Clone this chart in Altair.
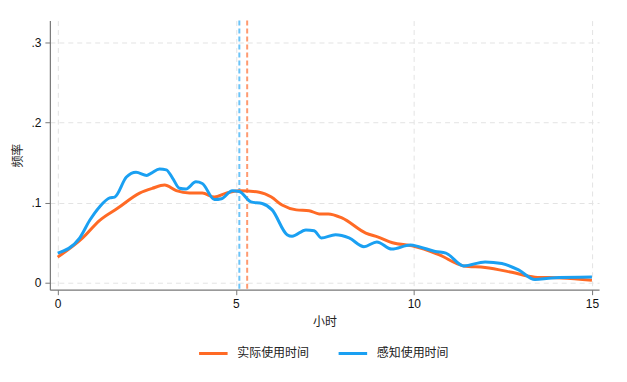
import altair as alt
import pandas as pd

actual_x = [0, 0.7, 1.18, 1.68, 2.3, 2.66, 3.0, 3.33, 3.7, 4.06, 4.4, 4.73, 5.1, 5.66, 6.0, 6.3, 6.7, 7.06, 7.34, 7.6, 7.98, 8.65, 9.0, 9.4, 9.95, 10.7, 11.4, 12.0, 12.75, 13.4, 14.15, 15.0]
actual_y = [0.032, 0.056, 0.078, 0.093, 0.112, 0.118, 0.122, 0.115, 0.112, 0.112, 0.107, 0.112, 0.115, 0.113, 0.107, 0.097, 0.091, 0.090, 0.086, 0.086, 0.081, 0.062, 0.057, 0.050, 0.046, 0.035, 0.021, 0.019, 0.013, 0.007, 0.006, 0.003]

perc_x = [0, 0.62, 0.9, 1.18, 1.46, 1.6, 1.93, 2.2, 2.5, 2.63, 2.86, 3.05, 3.22, 3.42, 3.6, 3.88, 4.06, 4.4, 4.6, 4.9, 5.1, 5.43, 5.74, 6.02, 6.44, 6.58, 6.97, 7.2, 7.4, 7.8, 8.18, 8.6, 8.96, 9.38, 9.9, 10.14, 10.6, 10.9, 11.4, 12.0, 12.47, 12.94, 13.4, 13.87, 15.0]
perc_y = [0.037, 0.056, 0.078, 0.095, 0.106, 0.107, 0.132, 0.138, 0.134, 0.137, 0.142, 0.141, 0.131, 0.118, 0.117, 0.126, 0.124, 0.104, 0.105, 0.115, 0.114, 0.101, 0.099, 0.091, 0.060, 0.058, 0.066, 0.065, 0.056, 0.060, 0.056, 0.045, 0.051, 0.042, 0.047, 0.045, 0.039, 0.037, 0.021, 0.026, 0.024, 0.016, 0.004, 0.006, 0.007]

series_names = ["实际使用时间", "感知使用时间"]
series_colors = ["#FF6A25", "#1AA0F2"]
mean_x = [5.32, 5.10]
mean_colors = ["#FF9A70", "#6CC4F8"]

df = pd.concat([
    pd.DataFrame({"小时": actual_x, "频率": actual_y, "series": series_names[0], "order": range(len(actual_x))}),
    pd.DataFrame({"小时": perc_x, "频率": perc_y, "series": series_names[1], "order": range(len(perc_x))}),
])
mdf = pd.DataFrame({"x": mean_x, "series": series_names, "c": mean_colors})

font = "Liberation Sans"
cjk = "Noto Sans CJK SC"

xscale = alt.Scale(domain=[-0.22, 15.2], nice=False, zero=False)
yscale = alt.Scale(domain=[-0.0087, 0.3275], nice=False, zero=False)

lines = alt.Chart(df).mark_line(strokeWidth=3, interpolate="monotone").encode(
    x=alt.X("小时:Q", scale=xscale,
            axis=alt.Axis(values=[0, 5, 10, 15], title="小时", titleFont=cjk, titleFontSize=12,
                          titleFontWeight="normal", titleColor="#222", titlePadding=7,
                          labelFont=font, labelFontSize=12, labelColor="#111", labelPadding=4,
                          tickSize=5, tickColor="#777", domainColor="#777", domainWidth=1.2,
                          grid=True, gridDash=[5, 4], gridColor="#e3e3e3")),
    y=alt.Y("频率:Q", scale=yscale,
            axis=alt.Axis(values=[0, 0.1, 0.2, 0.3], title="频率", titleFont=cjk, titleFontSize=12,
                          titleFontWeight="normal", titleColor="#222", titlePadding=6,
                          labelExpr="datum.value == 0 ? '0' : replace(format(datum.value, '.1f'), '0.', '.')",
                          labelFont=font, labelFontSize=12, labelColor="#111", labelPadding=4,
                          tickSize=5, tickColor="#777", domainColor="#777", domainWidth=1.2,
                          grid=True, gridDash=[5, 4], gridColor="#e3e3e3")),
    color=alt.Color("series:N", scale=alt.Scale(domain=series_names, range=series_colors),
                    sort=series_names,
                    legend=alt.Legend(title=None, orient="none", direction="horizontal",
                                      legendX=148, legendY=318,
                                      symbolType="stroke", symbolStrokeWidth=3, symbolSize=820,
                                      labelFont=cjk, labelFontSize=12, labelColor="#222",
                                      columnPadding=22, labelOffset=8)),
    order="order:Q",
)

rules = alt.Chart(mdf).mark_rule(strokeWidth=2, strokeDash=[5, 3]).encode(
    x=alt.X("x:Q", scale=xscale),
    color=alt.Color("c:N", scale=None),
)

chart = alt.layer(rules, lines).properties(
    width=551, height=270,
    autosize=alt.AutoSizeParams(type="none"),
    padding={"left": 42, "top": 12, "right": 20, "bottom": 90},
).configure(background="white").configure_view(strokeWidth=0, stroke="transparent")

chart.save("out.html", embed_options={"renderer": "svg", "actions": False})
